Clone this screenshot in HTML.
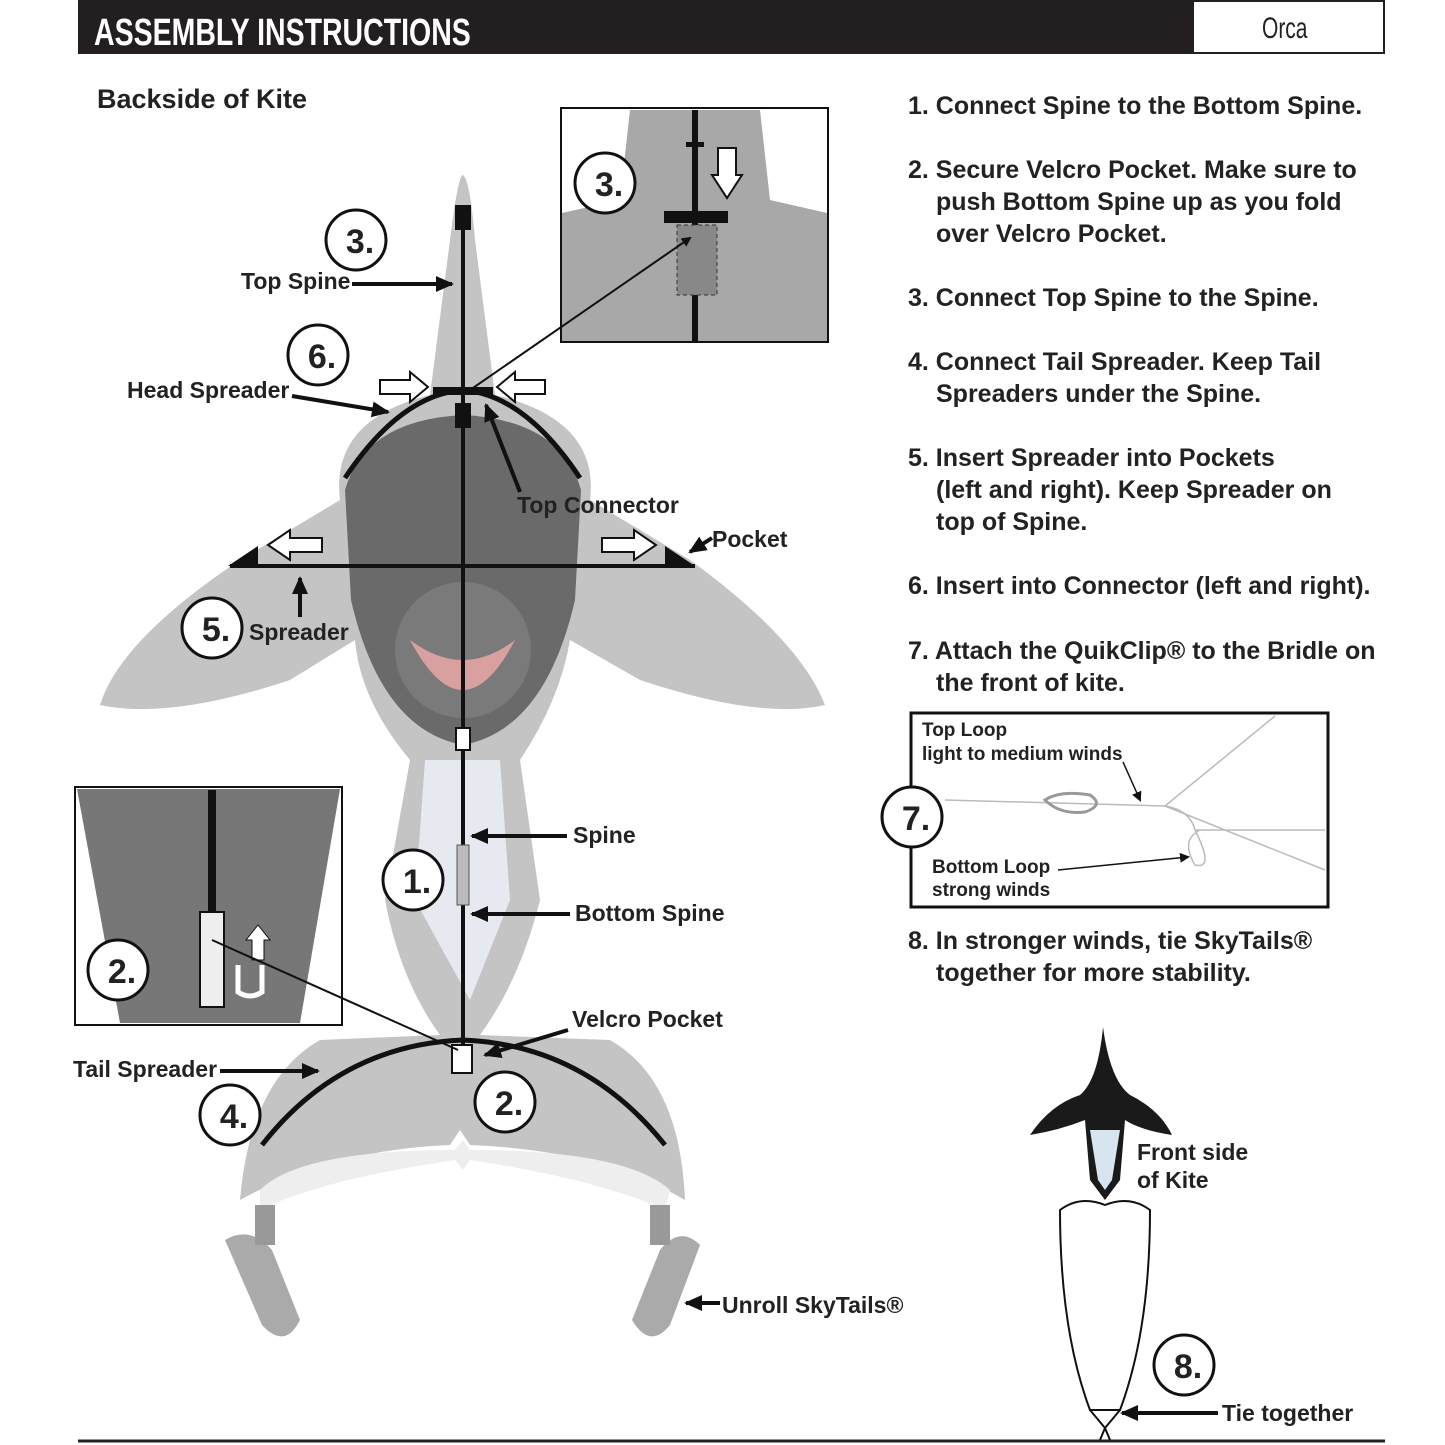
<!DOCTYPE html>
<html><head><meta charset="utf-8"><style>
html,body{margin:0;padding:0;background:#fff}
svg{display:block}
.t{font-family:"Liberation Sans",sans-serif;font-weight:bold;fill:#222}
</style></head><body>
<svg width="1445" height="1445" viewBox="0 0 1445 1445" xmlns="http://www.w3.org/2000/svg">
<defs>
<marker id="ah" markerWidth="10" markerHeight="10" refX="8" refY="5" orient="auto" markerUnits="userSpaceOnUse"><path d="M0,0 L10,5 L0,10 z" fill="#111"/></marker>
<marker id="ahs" markerWidth="20" markerHeight="20" refX="16" refY="10" orient="auto" markerUnits="userSpaceOnUse"><path d="M0,2 L18,10 L0,18 z" fill="#111"/></marker>
</defs>
<!-- header -->
<rect x="78" y="0" width="1307" height="54" fill="#231f20"/>
<rect x="1194" y="2" width="189" height="50" fill="#fff"/>
<text x="94" y="45" fill="#fff" font-family="'Liberation Sans Narrow','Liberation Sans',sans-serif" font-weight="bold" font-size="38" transform="translate(94,0) scale(0.75,1) translate(-94,0)">ASSEMBLY INSTRUCTIONS</text>
<text x="1262" y="38" fill="#222" font-family="'Liberation Sans Narrow','Liberation Sans',sans-serif" font-size="30" transform="translate(1262,0) scale(0.7,1) translate(-1262,0)">Orca</text>
<line x1="78" y1="1441" x2="1385" y2="1441" stroke="#222" stroke-width="3"/>
<text class="t" x="97" y="108" font-size="27">Backside of Kite</text>

<!-- orca silhouette -->
<path d="M100,705 Q120,640 240,560 L340,500 Q330,420 430,395 L450,240 Q458,175 463,175 Q470,180 475,240 L495,395 Q600,420 590,500 L690,560 Q800,640 825,705 Q760,720 640,680 L570,640 Q560,700 520,760 L540,900 Q520,980 480,1035 L610,1040 Q680,1080 685,1200 Q600,1150 470,1145 L460,1130 L450,1145 Q330,1150 240,1200 Q250,1080 320,1040 L440,1035 Q400,980 385,900 L410,760 Q360,700 355,640 L290,680 Q170,720 100,705 Z" fill="#c4c4c4"/>
<path d="M345,490 Q365,420 463,415 Q561,420 581,490 L575,600 Q545,730 463,745 Q381,730 351,600Z" fill="#6a6a6a"/>
<ellipse cx="463" cy="650" rx="68" ry="68" fill="#7a7a7a"/>
<path d="M410,640 Q463,740 515,640 Q463,680 410,640Z" fill="#d9a0a0"/>
<path d="M425,760 L500,760 L510,900 L470,1000 L415,900Z" fill="#e6eaf0"/>
<path d="M260,1190 Q300,1150 455,1150 L463,1140 L470,1150 Q625,1150 670,1190 L665,1210 Q600,1180 470,1160 L463,1170 L455,1160 Q320,1180 260,1210Z" fill="#eee"/>
<path d="M225,1240 Q250,1225 272,1250 L300,1320 Q285,1350 262,1325Z" fill="#aaa"/>
<path d="M700,1245 Q680,1225 660,1250 L632,1320 Q650,1350 670,1325Z" fill="#aaa"/>
<rect x="255" y="1205" width="20" height="40" fill="#999"/>
<rect x="650" y="1205" width="20" height="40" fill="#999"/>
<!-- spines -->
<line x1="463" y1="205" x2="463" y2="1050" stroke="#111" stroke-width="4"/>
<rect x="455" y="205" width="16" height="25" fill="#111"/>
<rect x="455" y="403" width="16" height="25" fill="#111"/>
<rect x="433" y="387" width="60" height="8" fill="#111"/>
<rect x="456" y="728" width="14" height="22" fill="#fff" stroke="#111" stroke-width="2"/>
<rect x="457" y="845" width="12" height="60" fill="#bbb" stroke="#555"/>
<rect x="452" y="1045" width="20" height="28" fill="#fff" stroke="#111" stroke-width="2"/>
<path d="M345,478 Q400,395 463,390 Q525,395 580,478" fill="none" stroke="#111" stroke-width="5"/>
<line x1="230" y1="566" x2="695" y2="566" stroke="#111" stroke-width="4"/>
<path d="M228,566 L258,546 L258,566Z M695,566 L665,546 L665,566Z" fill="#111"/>
<path d="M262,1145 Q340,1045 463,1040 Q585,1045 665,1145" fill="none" stroke="#111" stroke-width="5"/>
<!-- hollow arrows -->
<g fill="#fff" stroke="#111" stroke-width="2">
<path d="M380,380 L410,380 L410,372 L428,387 L410,402 L410,394 L380,394Z"/>
<path d="M545,380 L515,380 L515,372 L497,387 L515,402 L515,394 L545,394Z"/>
<path d="M322,538 L290,538 L290,530 L268,545 L290,560 L290,552 L322,552Z"/>
<path d="M602,538 L634,538 L634,530 L656,545 L634,560 L634,552 L602,552Z"/>
</g>
<!-- labels and arrows -->
<g class="t" font-size="23">
<text x="241" y="289">Top Spine</text>
<text x="127" y="398">Head Spreader</text>
<text x="517" y="513">Top Connector</text>
<text x="712" y="547">Pocket</text>
<text x="249" y="640">Spreader</text>
<text x="573" y="843">Spine</text>
<text x="575" y="921">Bottom Spine</text>
<text x="572" y="1027">Velcro Pocket</text>
<text x="73" y="1077">Tail Spreader</text>
<text x="722" y="1313">Unroll SkyTails®</text>
</g>
<g stroke="#111" stroke-width="4" fill="none" marker-end="url(#ahs)">
<line x1="352" y1="284" x2="452" y2="284"/>
<line x1="292" y1="396" x2="388" y2="412"/>
<line x1="520" y1="492" x2="486" y2="405"/>
<line x1="712" y1="538" x2="690" y2="552"/>
<line x1="300" y1="617" x2="300" y2="578"/>
<line x1="567" y1="836" x2="472" y2="836"/>
<line x1="570" y1="914" x2="472" y2="914"/>
<line x1="568" y1="1030" x2="485" y2="1055"/>
<line x1="220" y1="1071" x2="318" y2="1071"/>
<line x1="720" y1="1303" x2="686" y2="1303"/>
</g>
<!-- inset 3 -->
<rect x="561" y="108" width="267" height="234" fill="#fff" stroke="#111" stroke-width="2"/>
<path d="M562,213 L620,200 L630,110 L760,110 L770,200 L827,213 L827,341 L562,341Z" fill="#a8a8a8"/>
<line x1="695" y1="110" x2="695" y2="341" stroke="#111" stroke-width="6"/>
<rect x="686" y="142" width="18" height="5" fill="#111"/>
<rect x="664" y="211" width="64" height="12" fill="#111"/>
<rect x="677" y="225" width="40" height="70" fill="#888" stroke="#333" stroke-dasharray="4 3"/>
<path d="M718,148 L736,148 L736,175 L742,175 L727,198 L712,175 L718,175Z" fill="#fff" stroke="#111" stroke-width="2"/>
<line x1="470" y1="390" x2="690" y2="238" stroke="#111" stroke-width="2" marker-end="url(#ah)"/>
<!-- inset 2 -->
<rect x="75" y="787" width="267" height="238" fill="#fff" stroke="#111" stroke-width="2"/>
<path d="M77,789 L340,789 L300,1023 L120,1023Z" fill="#777"/>
<line x1="212" y1="790" x2="212" y2="915" stroke="#111" stroke-width="8"/>
<rect x="200" y="912" width="24" height="95" fill="#eee" stroke="#111" stroke-width="2"/>
<path d="M238,965 L238,992 Q250,1000 262,992 L262,965" fill="none" stroke="#fff" stroke-width="5"/>
<path d="M252,960 L252,940 L246,940 L258,925 L270,940 L264,940 L264,960Z" fill="#fff" stroke="#111"/>
<line x1="212" y1="940" x2="458" y2="1050" stroke="#111" stroke-width="2"/>
<!-- instructions -->
<g class="t" font-size="25">
<text x="908" y="114">1. Connect Spine to the  Bottom Spine.</text>
<text x="908" y="178">2. Secure Velcro Pocket.  Make sure to</text>
<text x="936" y="210">push Bottom Spine up as you fold</text>
<text x="936" y="242">over Velcro Pocket.</text>
<text x="908" y="306">3. Connect Top Spine  to the Spine.</text>
<text x="908" y="370">4. Connect Tail Spreader.  Keep Tail</text>
<text x="936" y="402">Spreaders under the Spine.</text>
<text x="908" y="466">5. Insert Spreader into Pockets</text>
<text x="936" y="498">(left and right).  Keep Spreader on</text>
<text x="936" y="530">top of Spine.</text>
<text x="908" y="594">6. Insert into Connector (left and right).</text>
<text x="908" y="659">7. Attach the QuikClip® to the Bridle on</text>
<text x="936" y="691">the front of kite.</text>
<text x="908" y="949">8. In stronger winds, tie SkyTails®</text>
<text x="936" y="981">together for more stability.</text>
</g>
<!-- box 7 -->
<rect x="911" y="713" width="417" height="194" fill="#fff" stroke="#111" stroke-width="3"/>
<g stroke="#bbb" stroke-width="1.5" fill="none">
<line x1="945" y1="800" x2="1165" y2="806"/>
<line x1="1165" y1="806" x2="1275" y2="716"/>
<line x1="1165" y1="806" x2="1325" y2="870"/>
<path d="M1165,806 Q1190,810 1195,830 Q1215,870 1195,865 Q1180,840 1200,830"/>
<line x1="1195" y1="830" x2="1325" y2="830"/>
<path d="M1045,800 Q1060,790 1090,795 Q1105,805 1085,812 Q1060,815 1045,800Z" stroke="#999" stroke-width="3"/>
</g>
<g class="t" font-size="19">
<text x="922" y="736">Top Loop</text>
<text x="922" y="760">light to medium winds</text>
<text x="932" y="873">Bottom Loop</text>
<text x="932" y="896">strong winds</text>
</g>
<line x1="1123" y1="762" x2="1140" y2="800" stroke="#111" stroke-width="1.5" marker-end="url(#ah)"/>
<line x1="1058" y1="870" x2="1188" y2="857" stroke="#111" stroke-width="1.5" marker-end="url(#ah)"/>
<!-- circled numbers -->
<g fill="#fff" stroke="#111" stroke-width="3">
<circle cx="356" cy="240" r="30"/><circle cx="318" cy="355" r="30"/>
<circle cx="212" cy="628" r="30"/><circle cx="413" cy="880" r="30"/>
<circle cx="230" cy="1115" r="30"/><circle cx="505" cy="1102" r="30"/>
<circle cx="605" cy="183" r="30"/><circle cx="118" cy="970" r="30"/>
<circle cx="912" cy="817" r="30"/><circle cx="1184" cy="1365" r="30"/>
</g>
<g class="t" font-size="34" text-anchor="middle">
<text x="360" y="253">3.</text><text x="322" y="368">6.</text>
<text x="216" y="641">5.</text><text x="417" y="893">1.</text>
<text x="234" y="1128">4.</text><text x="509" y="1115">2.</text>
<text x="609" y="196">3.</text><text x="122" y="983">2.</text>
<text x="916" y="830">7.</text><text x="1188" y="1378">8.</text>
</g>
<!-- small front kite -->
<path d="M1103,1027 Q1110,1080 1130,1095 Q1160,1110 1172,1135 Q1140,1130 1125,1120 L1120,1180 L1105,1200 L1090,1180 L1085,1120 Q1060,1130 1030,1135 Q1050,1105 1080,1095 Q1098,1080 1103,1027Z" fill="#1a1a1a"/>
<path d="M1090,1130 L1120,1130 L1112,1180 L1105,1190 L1098,1180Z" fill="#d8e4f0"/>
<path d="M1060,1210 Q1080,1195 1105,1205 Q1130,1195 1150,1210 Q1150,1330 1120,1410 L1090,1410 Q1060,1330 1060,1210Z" fill="#fff" stroke="#111" stroke-width="2"/>
<path d="M1090,1410 L1105,1428 L1120,1410 M1105,1428 L1100,1440 M1105,1428 L1110,1440" fill="none" stroke="#111" stroke-width="2"/>
<g class="t" font-size="23">
<text x="1137" y="1160">Front side</text>
<text x="1137" y="1188">of Kite</text>
<text x="1222" y="1421">Tie together</text>
</g>
<line x1="1218" y1="1413" x2="1122" y2="1413" stroke="#111" stroke-width="4" marker-end="url(#ahs)"/>
</svg>
</body></html>
